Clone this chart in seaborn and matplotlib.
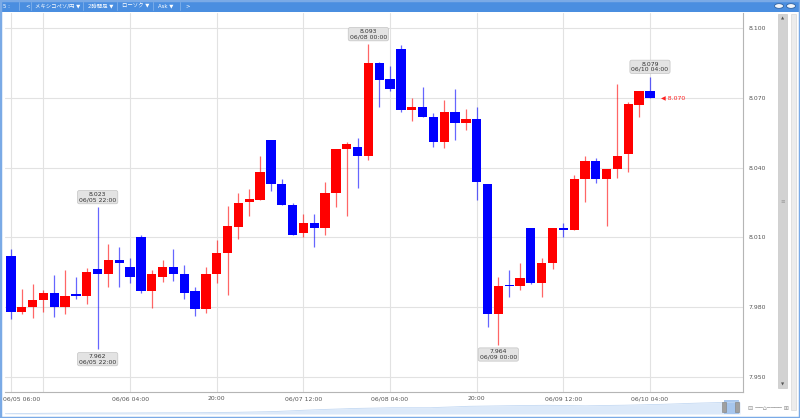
import numpy as np
import pandas as pd
import seaborn as sns
import matplotlib.pyplot as plt
import matplotlib.transforms as mtransforms
from matplotlib.patches import Rectangle, Circle

# 2-hour candles, 06/05 06:00 -> 06/10 04:00 (MXN/JPY)
opens = [8.002, 7.978, 7.980, 7.983, 7.986, 7.980, 7.9852, 7.985, 7.9963, 7.9941,
         8.0003, 7.9971, 8.010, 7.9871, 7.9931, 7.9971, 7.9941, 7.9871, 7.9794, 7.9941,
         8.0032, 8.0143, 8.0251, 8.0261, 8.0519, 8.033, 8.0239, 8.012, 8.016, 8.0142,
         8.0292, 8.048, 8.049, 8.045, 8.0851, 8.078, 8.0908, 8.0648, 8.0659, 8.0619,
         8.051, 8.064, 8.059, 8.0609, 8.033, 7.9771, 7.9893, 7.9892, 8.0142, 7.9903,
         7.9991, 8.0142, 8.013, 8.035, 8.043, 8.035, 8.0393, 8.0458, 8.0669, 8.073]
highs = [8.005, 7.988, 7.990, 7.9874, 7.994, 7.996, 7.993, 7.997, 8.023, 8.0072,
         8.006, 8.001, 8.0109, 7.996, 8.0003, 8.005, 7.998, 7.9888, 7.9971, 8.0089,
         8.0236, 8.029, 8.0308, 8.045, 8.0519, 8.035, 8.0249, 8.020, 8.020, 8.034,
         8.048, 8.0511, 8.0528, 8.093, 8.0855, 8.0837, 8.0927, 8.0698, 8.0748, 8.0636,
         8.069, 8.0738, 8.065, 8.0659, 8.033, 7.9931, 7.996, 7.9989, 8.0142, 8.0013,
         8.0142, 8.0163, 8.0368, 8.045, 8.044, 8.0393, 8.0759, 8.0683, 8.0731, 8.079]
lows = [7.975, 7.977, 7.9755, 7.978, 7.976, 7.977, 7.9834, 7.9814, 7.962, 7.9886,
        7.9886, 7.9903, 7.986, 7.9795, 7.991, 7.9914, 7.9834, 7.9762, 7.9774, 7.9903,
        7.9852, 8.0092, 8.0192, 8.026, 8.030, 8.0239, 8.011, 8.0103, 8.006, 8.011,
        8.0232, 8.0192, 8.0311, 8.0433, 8.0659, 8.073, 8.064, 8.060, 8.0619, 8.049,
        8.0483, 8.0519, 8.0562, 8.026, 7.9714, 7.964, 7.9845, 7.9874, 7.990, 7.9845,
        7.9963, 8.010, 8.013, 8.0253, 8.0333, 8.015, 8.0354, 8.0382, 8.0619, 8.0698]
closes = [7.978, 7.980, 7.983, 7.986, 7.980, 7.985, 7.985, 7.9953, 7.9941, 8.0003,
          7.9991, 7.9931, 7.9871, 7.9941, 7.9971, 7.9941, 7.986, 7.9794, 7.9941, 8.0032,
          8.015, 8.0249, 8.0264, 8.0381, 8.033, 8.0239, 8.011, 8.016, 8.0142, 8.0292,
          8.048, 8.050, 8.0451, 8.0851, 8.0777, 8.0737, 8.0648, 8.0659, 8.0619, 8.051,
          8.064, 8.059, 8.0609, 8.034, 7.9771, 7.9892, 7.989, 7.9924, 7.9903, 7.9991,
          8.0142, 8.0132, 8.035, 8.043, 8.035, 8.0393, 8.045, 8.0672, 8.0731, 8.070]

tick_pos = [0, 11, 19, 27, 35, 43, 51, 59]
tick_labels = ["06/05 06:00", "06/06 04:00", "20:00", "06/07 12:00",
               "06/08 04:00", "20:00", "06/09 12:00", "06/10 04:00"]
grid_pos = [0, 3, 11, 19, 27, 35, 43, 51, 59]
y_ticks = [7.950, 7.980, 8.010, 8.040, 8.070, 8.100]

# high / low callouts
note_idx = [8, 8, 33, 45, 59]
note_kind = ["high", "low", "high", "low", "high"]
note_time = ["06/05 22:00", "06/05 22:00", "06/08 00:00", "06/09 00:00", "06/10 04:00"]

# overview strip at the bottom (height of the light blue area)
nav_level = [0.3, 0.7, 1.0, 1.0, 1.2, 1.3, 1.7, 2.5, 4.2, 5.5,
             6.3, 6.3, 7.7, 8.3, 8.7, 8.2, 8.8, 9.7, 11, 12]

df = pd.DataFrame({"open": opens, "high": highs, "low": lows, "close": closes})
df["x"] = np.arange(len(df))
df["up"] = df["close"] >= df["open"]
df["color"] = np.where(df["up"], "#ff0000", "#0000ff")

sns.set_style("white")
plt.rcParams["font.family"] = ["DejaVu Sans", "Noto Sans CJK JP"]

fig = plt.figure(figsize=(8, 4.18), dpi=100)
W, H = 800, 418

def box(x0, y0, x1, y1):
    return [x0 / W, 1 - y1 / H, (x1 - x0) / W, (y1 - y0) / H]

ax = fig.add_axes(box(5, 13, 743, 392))
ax.set_xlim(-0.554, 67.59)
ax.set_ylim(7.9436, 8.1064)

for g in grid_pos:
    ax.axvline(g, color="#e2e2e2", lw=0.8, zorder=0)
for t in y_ticks:
    ax.axhline(t, color="#e2e2e2", lw=0.8, zorder=0)

# wicks
ax.vlines(df["x"], df["low"], df["high"], colors=df["color"], lw=0.9, alpha=0.6, zorder=2)
# bodies
body = (df["close"] - df["open"]).abs().clip(lower=0.0006)
bottom = df[["open", "close"]].min(axis=1)
ax.bar(df["x"], body, bottom=bottom, width=0.86, color=df["color"], lw=0, zorder=3)

# callouts
for i, kind, tm in zip(note_idx, note_kind, note_time):
    val = highs[i] if kind == "high" else lows[i]
    dy = 7.2 if kind == "high" else -7.2
    ax.annotate(f"{val:.3f}\n{tm}", xy=(i, val), xytext=(0, dy), textcoords="offset points",
                ha="center", va="center", fontsize=4.4, color="#333333", linespacing=1.05,
                bbox=dict(boxstyle="round,pad=0.25,rounding_size=0.3", fc="#e3e3e3",
                          ec="#c4c4c4", lw=0.5), zorder=5)

# current price marker
last = closes[-1]
ax.annotate(f"\u25c0 {last:.3f}", xy=(len(closes) - 1, last), xytext=(8, 0),
            textcoords="offset points", ha="left", va="center",
            fontsize=4.4, color="#ff2020")

ax.set_xticks(tick_pos)
ax.set_xticklabels(tick_labels)
ax.yaxis.tick_right()
ax.set_yticks(y_ticks)
ax.set_yticklabels([f"{t:.3f}" for t in y_ticks])
ax.tick_params(axis="both", length=0, labelsize=4.4, colors="#555555")
ax.tick_params(axis="x", pad=3)
ax.tick_params(axis="y", pad=4)
first = ax.get_xticklabels()[0]
first.set_ha("left")
first.set_transform(first.get_transform() + mtransforms.ScaledTranslation(-8 / 100, 0, fig.dpi_scale_trans))
for s in ["top", "left"]:
    ax.spines[s].set_visible(False)
for s in ["bottom", "right"]:
    ax.spines[s].set_color("#b5b5b5")
    ax.spines[s].set_linewidth(0.8)

# overview strip
nav = fig.add_axes(box(5, 400, 740, 414))
nav_x = np.linspace(0, 1, len(nav_level))
sns.lineplot(x=nav_x, y=nav_level, ax=nav, color="#c4d9f3", lw=0.6)
nav.fill_between(nav_x, 0, nav_level, color="#dce9f9", lw=0)
nav.axvspan(0.978, 0.998, color="#a6c6ee", lw=0)
nav.set_xlim(0, 1)
nav.set_ylim(0, 14)
nav.axis("off")
for hx in (722, 735):
    fig.patches.append(Rectangle((hx / W, 1 - 412 / H), 4 / W, 10 / H, transform=fig.transFigure,
                                 fc="#a0a0a0", ec="#808080", lw=0.4))
fig.text(748 / W, 1 - 408 / H, "\u229f \u2500\u2500\u2302\u2500\u2500\u2500\u2500 \u229e",
         fontsize=4.5, color="#909090", va="center")

# toolbar
fig.patches.append(Rectangle((0, 1 - 12 / H), 1, 12 / H, transform=fig.transFigure,
                             fc="#4a8ee0", ec="none"))
items = [(3, "5 :"), (25, "<"), (35, "メキシコペソ/円 \u25bc"), (88, "2時間足 \u25bc"),
         (122, "ローソク \u25bc"), (158, "Ask \u25bc"), (185, ">")]
for x0, txt in items:
    fig.text(x0 / W, 1 - 6 / H, txt, fontsize=3.9, color="white", va="center")
for sx in (19, 31, 83, 117, 153, 180):
    fig.add_artist(plt.Line2D([sx / W, sx / W], [1 - 10 / H, 1 - 2 / H], color="#7fb0ea", lw=0.6))
for cx in (779, 791):
    fig.patches.append(Circle((cx / W, 1 - 6 / H), 4.5 / W, transform=fig.transFigure,
                              fc="#f2f6fb", ec="#2d5f9e", lw=0.6))

# right scrollbars
fig.patches.append(Rectangle((778 / W, 1 - 388 / H), 9 / W, 374 / H, transform=fig.transFigure,
                             fc="#d2d2d2", ec="#c0c0c0", lw=0.4))
fig.patches.append(Rectangle((791 / W, 1 - 410 / H), 5 / W, 396 / H, transform=fig.transFigure,
                             fc="#ececec", ec="#d0d0d0", lw=0.4))
fig.text(782.5 / W, 1 - 18 / H, "\u25b2", fontsize=3, color="#555555", ha="center", va="center")
fig.text(782.5 / W, 1 - 384 / H, "\u25bc", fontsize=3, color="#555555", ha="center", va="center")
fig.text(782.5 / W, 1 - 201 / H, "\u2261", fontsize=4, color="#999999", ha="center", va="center")

# window frame
fig.patches.append(Rectangle((0, 0), 1, 1, transform=fig.transFigure, fc="none",
                             ec="#7aaae6", lw=2.5))

fig.savefig("out.png", dpi=100)
